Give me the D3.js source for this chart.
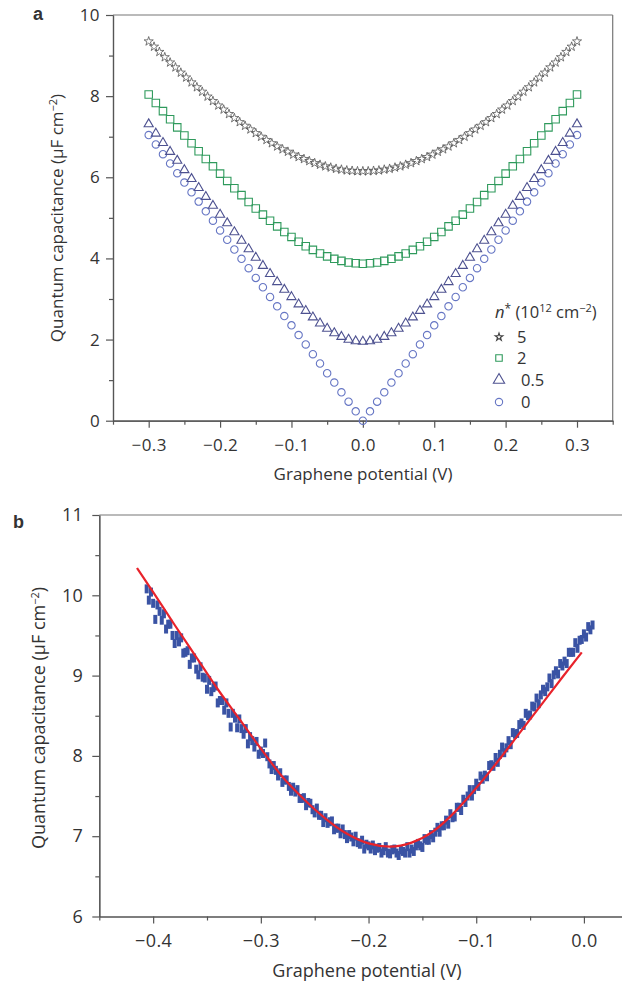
<!DOCTYPE html>
<html>
<head>
<meta charset="utf-8">
<script src="https://cdn.jsdelivr.net/npm/d3@7"></script>
<style>
body { margin: 0; background: #fff; }
text { font-family: "Open Sans", "Noto Sans", sans-serif; fill: #333; }
</style>
</head>
<body>
<div id="chart"></div>
<script>
// ---------- data, panel a ----------
let potA = [-0.30,-0.29,-0.28,-0.27,-0.26,-0.25,-0.24,-0.23,-0.22,-0.21,
  -0.20,-0.19,-0.18,-0.17,-0.16,-0.15,-0.14,-0.13,-0.12,-0.11,
  -0.10,-0.09,-0.08,-0.07,-0.06,-0.05,-0.04,-0.03,-0.02,-0.01,
  0.00,0.01,0.02,0.03,0.04,0.05,0.06,0.07,0.08,0.09,
  0.10,0.11,0.12,0.13,0.14,0.15,0.16,0.17,0.18,0.19,
  0.20,0.21,0.22,0.23,0.24,0.25,0.26,0.27,0.28,0.29,0.30];

// n* = 0
let capN0 = [7.04,6.81,6.57,6.34,6.10,5.87,5.63,5.40,5.16,4.93,
  4.69,4.46,4.22,3.99,3.76,3.52,3.29,3.05,2.82,2.58,
  2.35,2.11,1.88,1.64,1.41,1.17,0.94,0.70,0.47,0.23,
  0.00,0.23,0.47,0.70,0.94,1.17,1.41,1.64,1.88,2.11,
  2.35,2.58,2.82,3.05,3.29,3.52,3.76,3.99,4.22,4.46,
  4.69,4.93,5.16,5.40,5.63,5.87,6.10,6.34,6.57,6.81,7.04];

// n* = 0.5
let capN05 = [7.31,7.08,6.85,6.63,6.41,6.18,5.96,5.74,5.52,5.30,
  5.08,4.87,4.65,4.44,4.23,4.02,3.82,3.62,3.42,3.23,
  3.05,2.87,2.71,2.55,2.40,2.27,2.16,2.07,2.00,1.96,
  1.95,1.96,2.00,2.07,2.16,2.27,2.40,2.55,2.71,2.87,
  3.05,3.23,3.42,3.62,3.82,4.02,4.23,4.44,4.65,4.87,
  5.08,5.30,5.52,5.74,5.96,6.18,6.41,6.63,6.85,7.08,7.31];

// n* = 2
let capN2 = [8.04,7.83,7.63,7.43,7.23,7.03,6.84,6.64,6.45,6.27,
  6.09,5.91,5.73,5.56,5.39,5.23,5.08,4.93,4.79,4.65,
  4.53,4.41,4.30,4.21,4.12,4.05,3.99,3.94,3.90,3.88,
  3.87,3.88,3.90,3.94,3.99,4.05,4.12,4.21,4.30,4.41,
  4.53,4.65,4.79,4.93,5.08,5.23,5.39,5.56,5.73,5.91,
  6.09,6.27,6.45,6.64,6.84,7.03,7.23,7.43,7.63,7.83,8.04];

// n* = 5 (denser sampling)
let potStar = [-0.3,-0.2925,-0.285,-0.2775,-0.27,-0.2625,-0.255,-0.2475,-0.24,-0.2325,
  -0.225,-0.2175,-0.21,-0.2025,-0.195,-0.1875,-0.18,-0.1725,-0.165,-0.1575,
  -0.15,-0.1425,-0.135,-0.1275,-0.12,-0.1125,-0.105,-0.0975,-0.09,-0.0825,
  -0.075,-0.0675,-0.06,-0.0525,-0.045,-0.0375,-0.03,-0.0225,-0.015,-0.0075,
  0,0.0075,0.015,0.0225,0.03,0.0375,0.045,0.0525,0.06,0.0675,
  0.075,0.0825,0.09,0.0975,0.105,0.1125,0.12,0.1275,0.135,0.1425,
  0.15,0.1575,0.165,0.1725,0.18,0.1875,0.195,0.2025,0.21,0.2175,
  0.225,0.2325,0.24,0.2475,0.255,0.2625,0.27,0.2775,0.285,0.2925,0.3];
let capN5 = [9.35,9.22,9.09,8.96,8.83,8.71,8.58,8.46,8.34,8.22,
  8.11,7.99,7.88,7.77,7.67,7.56,7.46,7.36,7.27,7.18,
  7.09,7.00,6.92,6.84,6.76,6.69,6.63,6.56,6.50,6.45,
  6.40,6.35,6.31,6.27,6.24,6.21,6.19,6.17,6.16,6.15,
  6.15,6.15,6.16,6.17,6.19,6.21,6.24,6.27,6.31,6.35,
  6.40,6.45,6.50,6.56,6.63,6.69,6.76,6.84,6.92,7.00,
  7.09,7.18,7.27,7.36,7.46,7.56,7.67,7.77,7.88,7.99,
  8.11,8.22,8.34,8.46,8.58,8.71,8.83,8.96,9.09,9.22,9.35];

let legendLabels = ["5", "2", "0.5", "0"];
let ticksXA = [-0.3,-0.2,-0.1,0.0,0.1,0.2,0.3];
let minorXA = [-0.35,-0.25,-0.15,-0.05,0.05,0.15,0.25,0.35];
let ticksYA = [0,2,4,6,8,10];
let minorYA = [1,3,5,7,9];

// ---------- data, panel b ----------
let potB = [-0.406,-0.404,-0.402,-0.400,-0.398,-0.396,-0.394,-0.392,-0.390,-0.388,
  -0.386,-0.384,-0.382,-0.380,-0.378,-0.376,-0.374,-0.372,-0.370,-0.368,
  -0.366,-0.364,-0.362,-0.360,-0.358,-0.356,-0.354,-0.352,-0.350,-0.348,
  -0.346,-0.344,-0.342,-0.340,-0.338,-0.336,-0.334,-0.332,-0.330,-0.328,
  -0.326,-0.324,-0.322,-0.320,-0.318,-0.316,-0.314,-0.312,-0.310,-0.308,
  -0.306,-0.304,-0.302,-0.300,-0.298,-0.296,-0.294,-0.292,-0.290,-0.288,
  -0.286,-0.284,-0.282,-0.280,-0.278,-0.276,-0.274,-0.272,-0.270,-0.268,
  -0.266,-0.264,-0.262,-0.260,-0.258,-0.256,-0.254,-0.252,-0.250,-0.248,
  -0.246,-0.244,-0.242,-0.240,-0.238,-0.236,-0.234,-0.232,-0.230,-0.228,
  -0.226,-0.224,-0.222,-0.220,-0.218,-0.216,-0.214,-0.212,-0.210,-0.208,
  -0.206,-0.204,-0.202,-0.200,-0.198,-0.196,-0.194,-0.192,-0.190,-0.188,
  -0.186,-0.184,-0.182,-0.180,-0.178,-0.176,-0.174,-0.172,-0.170,-0.168,
  -0.166,-0.164,-0.162,-0.160,-0.158,-0.156,-0.154,-0.152,-0.150,-0.148,
  -0.146,-0.144,-0.142,-0.140,-0.138,-0.136,-0.134,-0.132,-0.130,-0.128,
  -0.126,-0.124,-0.122,-0.120,-0.118,-0.116,-0.114,-0.112,-0.110,-0.108,
  -0.106,-0.104,-0.102,-0.100,-0.098,-0.096,-0.094,-0.092,-0.090,-0.088,
  -0.086,-0.084,-0.082,-0.080,-0.078,-0.076,-0.074,-0.072,-0.070,-0.068,
  -0.066,-0.064,-0.062,-0.060,-0.058,-0.056,-0.054,-0.052,-0.050,-0.048,
  -0.046,-0.044,-0.042,-0.040,-0.038,-0.036,-0.034,-0.032,-0.030,-0.028,
  -0.026,-0.024,-0.022,-0.020,-0.018,-0.016,-0.014,-0.012,-0.010,-0.008,
  -0.006,-0.004,-0.002,0.000,0.002,0.004,0.006,0.008];

let capB = [10.08,9.94,10.04,9.90,9.70,9.88,9.80,9.69,9.77,9.58,
  9.64,9.64,9.50,9.40,9.50,9.42,9.47,9.28,9.29,9.31,
  9.14,9.22,9.22,9.08,9.01,9.11,8.98,8.97,8.83,8.94,
  8.80,8.85,8.87,8.66,8.69,8.69,8.57,8.66,8.53,8.36,
  8.53,8.47,8.35,8.46,8.34,8.27,8.34,8.15,8.24,8.19,
  8.11,8.18,8.02,8.06,8.03,8.16,7.99,7.90,7.83,7.88,
  7.82,7.75,7.79,7.67,7.70,7.70,7.62,7.56,7.61,7.55,
  7.58,7.47,7.47,7.48,7.38,7.42,7.41,7.33,7.29,7.35,
  7.26,7.26,7.17,7.23,7.16,7.18,7.19,7.08,7.10,7.10,
  7.03,7.09,7.02,6.97,7.02,6.99,6.93,7.00,6.92,6.90,
  6.95,6.84,6.90,6.88,6.84,6.89,6.82,6.85,6.86,6.79,
  6.82,6.87,6.79,6.78,6.83,6.84,6.79,6.76,6.83,6.81,
  6.79,6.87,6.79,6.84,6.81,6.88,6.91,6.88,6.86,6.97,
  6.95,6.95,7.02,6.98,7.05,7.11,7.05,7.13,7.13,7.20,
  7.15,7.28,7.23,7.24,7.36,7.36,7.32,7.46,7.42,7.50,
  7.58,7.50,7.58,7.66,7.62,7.75,7.71,7.76,7.74,7.88,
  7.89,7.87,7.98,7.92,8.02,8.11,8.04,8.10,8.19,8.14,
  8.29,8.27,8.28,8.39,8.41,8.38,8.53,8.50,8.51,8.62,
  8.61,8.72,8.65,8.76,8.83,8.80,8.86,8.97,8.90,9.01,
  9.06,9.02,9.15,9.12,9.18,9.15,9.29,9.29,9.29,9.41,
  9.34,9.44,9.45,9.52,9.48,9.61,9.57,9.63];

// fitted curve (red)
let fitPot = [-0.415,-0.40,-0.38,-0.36,-0.34,-0.32,-0.30,-0.28,-0.26,-0.24,-0.22,
  -0.20,-0.18,-0.16,-0.14,-0.12,-0.10,-0.08,-0.06,-0.04,-0.02,-0.002];
let fitCap = [10.34,10.04,9.63,9.23,8.83,8.46,8.09,7.74,7.46,7.22,7.03,
  6.91,6.87,6.92,7.06,7.30,7.60,7.93,8.28,8.63,8.98,9.29];

let ticksXB = [-0.4,-0.3,-0.2,-0.1,0.0];
let minorXB = [-0.45,-0.35,-0.25,-0.15,-0.05];
let ticksYB = [6,7,8,9,10,11];
let minorYB = [6.5,7.5,8.5,9.5,10.5];

let svgWidth = 622;
let svgHeight = 989;

let svg = d3.select("#chart")
  .append("svg")
  .attr("width", svgWidth)
  .attr("height", svgHeight);

let axisColor = "#555";
let fmt1 = d3.format(".1f");

// draws major + minor ticks for one axis
function drawAxis(g, axisFn, scale, major, minor, fmt, pad, fontSize) {
  g.append("g")
    .call(axisFn(scale).tickValues(minor).tickSize(4).tickSizeOuter(0).tickFormat(""));
  let a = g.append("g")
    .call(axisFn(scale).tickValues(major).tickSize(7).tickSizeOuter(0).tickPadding(pad).tickFormat(fmt));
  g.selectAll("path, line").attr("stroke", axisColor).attr("stroke-width", 1.2);
  a.selectAll("text")
    .attr("fill", "#333")
    .style("font-size", fontSize + "px")
    .style("letter-spacing", "0.4px")
    .style("font-family", "'Open Sans', sans-serif");
  return a;
}

function yTitle(x, y, size) {
  let t = svg.append("text")
    .attr("transform", "rotate(-90)")
    .attr("x", -y)
    .attr("y", x)
    .attr("text-anchor", "middle")
    .style("font-size", size + "px");
  t.append("tspan").text("Quantum capacitance (μF cm");
  t.append("tspan").attr("dy", -6).style("font-size", "11px").text("−2");
  t.append("tspan").attr("dy", 6).text(")");
}

// ================= panel a =================
let xA = d3.scaleLinear().domain([-0.35, 0.35]).range([113, 612.7]);
let yA = d3.scaleLinear().domain([0, 10]).range([420.7, 15]);

let gA = svg.append("g");

// frame top/right
gA.append("line")
  .attr("x1", xA(-0.35)).attr("x2", xA(0.35))
  .attr("y1", yA(10)).attr("y2", yA(10))
  .attr("stroke", "#777").attr("stroke-width", 1.2);
gA.append("line")
  .attr("x1", xA(0.35)).attr("x2", xA(0.35))
  .attr("y1", yA(10)).attr("y2", yA(0))
  .attr("stroke", "#777").attr("stroke-width", 1.2);

drawAxis(gA.append("g").attr("transform", `translate(0, ${yA(0)})`),
  d3.axisBottom, xA, ticksXA, minorXA, fmt1, 11, 17);
drawAxis(gA.append("g").attr("transform", `translate(${xA(-0.35)}, 0)`),
  d3.axisLeft, yA, ticksYA, minorYA, d3.format("d"), 6, 17);

let seriesA = [
  { x: potA, y: capN0, type: d3.symbolCircle, size: 43, color: "#6676c4", w: 1.1 },
  { x: potA, y: capN05, type: d3.symbolTriangle, size: 36, color: "#4d5190", w: 1.1 },
  { x: potA, y: capN2, type: d3.symbolSquare, size: 56, color: "#2f9a5c", w: 1.1 },
  { x: potStar, y: capN5, type: d3.symbolStar, size: 26, color: "#555", w: 0.8 }
];

seriesA.forEach(function(s) {
  let sym = d3.symbol().type(s.type).size(s.size);
  gA.append("g")
    .selectAll("path")
    .data(s.y)
    .enter()
    .append("path")
    .attr("d", sym)
    .attr("transform", (d, i) => `translate(${xA(s.x[i])}, ${yA(d)})`)
    .attr("fill", "none")
    .attr("stroke", s.color)
    .attr("stroke-width", s.w);
});

// legend
let leg = gA.append("g");
let legTitle = leg.append("text").attr("x", 495).attr("y", 318).style("font-size", "16.5px");
legTitle.append("tspan").style("font-style", "italic").text("n");
legTitle.append("tspan").attr("dy", -5).style("font-size", "12px").text("*");
legTitle.append("tspan").attr("dy", 5).text("  (10");
legTitle.append("tspan").attr("dy", -6).style("font-size", "11px").text("12");
legTitle.append("tspan").attr("dy", 6).text(" cm");
legTitle.append("tspan").attr("dy", -6).style("font-size", "11px").text("−2");
legTitle.append("tspan").attr("dy", 6).text(")");

let legRows = [
  { type: d3.symbolStar, size: 18, color: "#444", y: 337, lx: 517 },
  { type: d3.symbolSquare, size: 42, color: "#2f9a5c", y: 358, lx: 517 },
  { type: d3.symbolTriangle, size: 55, color: "#4d5190", y: 380, lx: 521 },
  { type: d3.symbolCircle, size: 42, color: "#6676c4", y: 402, lx: 521 }
];
legRows.forEach(function(r, i) {
  leg.append("path")
    .attr("d", d3.symbol().type(r.type).size(r.size))
    .attr("transform", `translate(499, ${r.y})`)
    .attr("fill", "none")
    .attr("stroke", r.color)
    .attr("stroke-width", 1.1);
  leg.append("text")
    .attr("x", r.lx)
    .attr("y", r.y + 6)
    .style("font-size", "16.5px")
    .text(legendLabels[i]);
});

svg.append("text")
  .attr("x", 363).attr("y", 480)
  .attr("text-anchor", "middle")
  .style("font-size", "17px")
  .text("Graphene potential (V)");
yTitle(63, 218, 17);

svg.append("text")
  .attr("x", 33).attr("y", 20)
  .style("font-family", "'Liberation Sans', Arial, sans-serif")
  .style("font-weight", "bold")
  .style("font-size", "18px")
  .attr("fill", "#111")
  .text("a");

// ================= panel b =================
let xB = d3.scaleLinear().domain([-0.45, 0.04]).range([99.3, 627]);
let yB = d3.scaleLinear().domain([6, 11]).range([916.5, 515]);

let gB = svg.append("g");

gB.append("line")
  .attr("x1", xB(-0.45)).attr("x2", xB(0.04))
  .attr("y1", yB(11)).attr("y2", yB(11))
  .attr("stroke", "#777").attr("stroke-width", 1.2);

drawAxis(gB.append("g").attr("transform", `translate(0, ${yB(6)})`),
  d3.axisBottom, xB, ticksXB, minorXB, fmt1, 11, 18);
drawAxis(gB.append("g").attr("transform", `translate(${xB(-0.45)}, 0)`),
  d3.axisLeft, yB, ticksYB, minorYB, d3.format("d"), 9, 18);

// measured points
gB.append("g")
  .selectAll("rect")
  .data(capB)
  .enter()
  .append("rect")
  .attr("x", (d, i) => xB(potB[i]) - 2)
  .attr("y", d => yB(d) - 4.5)
  .attr("width", 4)
  .attr("height", 9)
  .attr("fill", "#3a53a4");

// fit
let fitLine = d3.line()
  .x((d, i) => xB(fitPot[i]))
  .y(d => yB(d))
  .curve(d3.curveMonotoneX);

gB.append("path")
  .attr("d", fitLine(fitCap))
  .attr("fill", "none")
  .attr("stroke", "#e8232b")
  .attr("stroke-width", 2.2);

svg.append("text")
  .attr("x", 367).attr("y", 977)
  .attr("text-anchor", "middle")
  .style("font-size", "18px")
  .text("Graphene potential (V)");
yTitle(45, 718, 18);

svg.append("text")
  .attr("x", 13).attr("y", 528)
  .style("font-family", "'Liberation Sans', Arial, sans-serif")
  .style("font-weight", "bold")
  .style("font-size", "18px")
  .attr("fill", "#111")
  .text("b");
</script>
</body>
</html>
